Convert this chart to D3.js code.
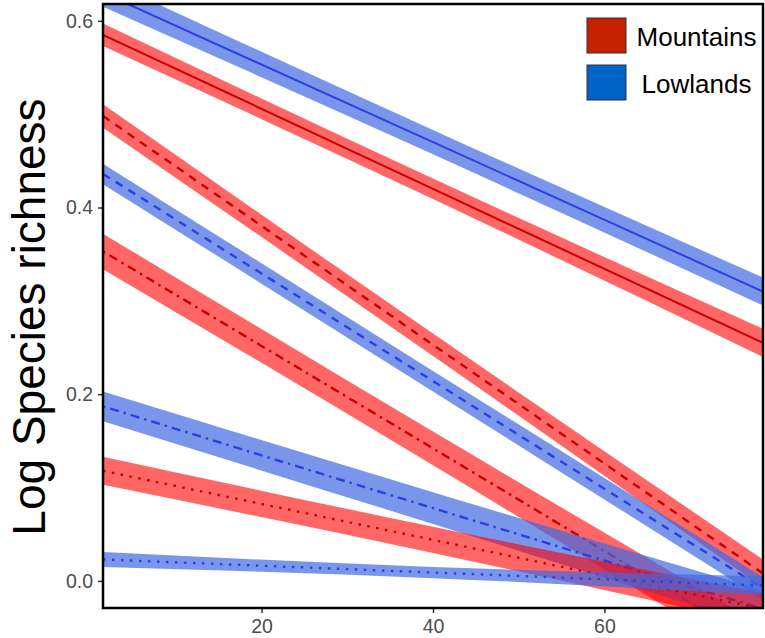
<!DOCTYPE html>
<html>
<head>
<meta charset="utf-8">
<script src="https://cdn.jsdelivr.net/npm/d3@7"></script>
<style>
  html, body { margin: 0; padding: 0; background: #fff; }
  svg { display: block; }
  text { font-family: "Liberation Sans", Arial, Helvetica, sans-serif; }
</style>
</head>
<body>
<svg id="chart" width="765" height="638"></svg>
<script>
// Fitted values at three positions along the gradient (start, middle, end)
const xPoints = [1.5, 40, 78.5];

const regions = ["Mountains", "Lowlands"];
const regionFill = ["#C42200", "#0063C6"];

// One entry per fitted model: region, line type, fit and half-width of the band
const seriesRegion   = ["Mountains", "Lowlands", "Mountains", "Lowlands", "Mountains", "Lowlands", "Mountains", "Lowlands"];
const seriesLinetype = ["solid", "solid", "dashed", "dashed", "dotdash", "dotdash", "dotted", "dotted"];
const seriesFit = [
  [0.585, 0.420, 0.255],
  [0.630, 0.470, 0.310],
  [0.498, 0.253, 0.008],
  [0.436, 0.214, -0.008],
  [0.353, 0.142, -0.070],
  [0.187, 0.078, -0.030],
  [0.118, 0.044, -0.030],
  [0.023, 0.009, -0.005]
];
const seriesHalfWidth = [
  [0.012, 0.011, 0.015],
  [0.015, 0.013, 0.015],
  [0.0125, 0.012, 0.015],
  [0.011, 0.011, 0.012],
  [0.019, 0.018, 0.022],
  [0.016, 0.017, 0.020],
  [0.015, 0.014, 0.017],
  [0.008, 0.006, 0.010]
];

const yTicks = [0.0, 0.2, 0.4, 0.6];
const xTicks = [20, 40, 60];
const yTitle = "Log Species richness";

const lineColour = { Mountains: "#C80000", Lowlands: "#2A40E6" };
const bandColour = { Mountains: "#FF0000", Lowlands: "#4169E1" };
const bandOpacity = { Mountains: 0.6, Lowlands: 0.7 };
const dashes = { solid: null, dashed: "8,7", dotdash: "2.5,5,9,5", dotted: "2.5,6.5" };
const widths = { solid: 2, dashed: 2.4, dotdash: 2.4, dotted: 2.4 };

const svg = d3.select("#chart");
const panel = { left: 103, right: 763, top: 4, bottom: 608 };

const x = d3.scaleLinear().domain([1.5, 78.5]).range([panel.left, panel.right]);
const y = d3.scaleLinear().domain([-0.029, 0.618]).range([panel.bottom, panel.top]);

svg.append("defs").append("clipPath").attr("id", "panel-clip")
  .append("rect")
  .attr("x", panel.left).attr("y", panel.top)
  .attr("width", panel.right - panel.left).attr("height", panel.bottom - panel.top);

const plot = svg.append("g").attr("clip-path", "url(#panel-clip)");

const band = d3.area()
  .x(d => x(d.x)).y0(d => y(d.fit - d.hw)).y1(d => y(d.fit + d.hw))
  .curve(d3.curveNatural);
const fitLine = d3.line().x(d => x(d.x)).y(d => y(d.fit)).curve(d3.curveNatural);

seriesFit.forEach((fit, i) => {
  const pts = xPoints.map((xv, j) => ({ x: xv, fit: fit[j], hw: seriesHalfWidth[i][j] }));
  const reg = seriesRegion[i];
  const lt = seriesLinetype[i];
  plot.append("path").attr("d", band(pts))
    .attr("fill", bandColour[reg]).attr("fill-opacity", bandOpacity[reg]).attr("stroke", "none");
  plot.append("path").attr("d", fitLine(pts))
    .attr("fill", "none").attr("stroke", lineColour[reg]).attr("stroke-width", widths[lt])
    .attr("stroke-dasharray", dashes[lt]);
});

// Axes
const yAxis = d3.axisLeft(y).tickValues(yTicks).tickFormat(d3.format(".1f")).tickSize(5).tickPadding(5);
const xAxis = d3.axisBottom(x).tickValues(xTicks).tickSize(5).tickPadding(6);

const gy = svg.append("g").attr("transform", `translate(${panel.left},0)`).call(yAxis);
const gx = svg.append("g").attr("transform", `translate(0,${panel.bottom})`).call(xAxis);
[gy, gx].forEach(g => {
  g.select(".domain").remove();
  g.selectAll(".tick line").attr("stroke", "#333").attr("stroke-width", 1.5);
  g.selectAll(".tick text").attr("fill", "#4D4D4D").style("font-size", "19.5px")
    .style("font-family", "'Liberation Sans', Arial, sans-serif");
});

// Panel border
svg.append("rect")
  .attr("x", panel.left).attr("y", panel.top)
  .attr("width", panel.right - panel.left).attr("height", panel.bottom - panel.top)
  .attr("fill", "none").attr("stroke", "#000").attr("stroke-width", 2.5);

// Y axis title
svg.append("text")
  .attr("transform", "translate(45,317) rotate(-90)")
  .attr("text-anchor", "middle")
  .style("font-size", "46px").attr("fill", "#000")
  .text(yTitle);

// Legend
const legend = svg.append("g");
regions.forEach((r, i) => {
  const top = 18 + i * 47;
  legend.append("rect")
    .attr("x", 587).attr("y", top).attr("width", 39).attr("height", 35)
    .attr("fill", regionFill[i]).attr("stroke", "#333").attr("stroke-width", 1);
  legend.append("text")
    .attr("x", 696.5).attr("y", top + 28).attr("text-anchor", "middle")
    .style("font-size", "26px").attr("fill", "#000")
    .text(r);
});
</script>
</body>
</html>
